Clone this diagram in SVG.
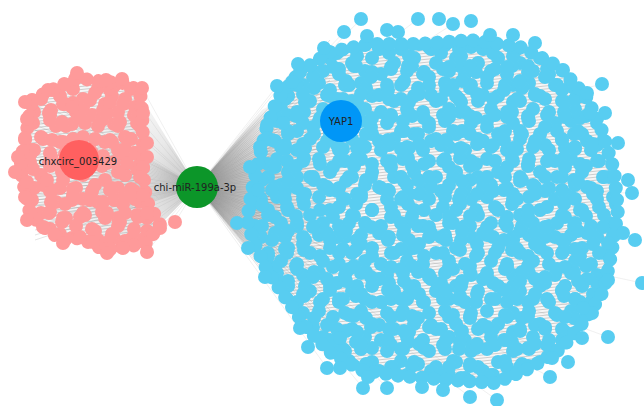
<svg xmlns="http://www.w3.org/2000/svg" width="644" height="406" viewBox="0 0 644 406">
<style>
.e{stroke:#7a7a7a;stroke-width:0.45;stroke-opacity:0.45;fill:none}
.e2{stroke:#a0a0a0;stroke-width:0.4;stroke-opacity:0.4;fill:none}
.b{fill:#58cdf1}
.p{fill:#fe9a9a}
.bo{fill:none;stroke:#58cdf1;stroke-width:14;stroke-linecap:round;stroke-linejoin:round;stroke-dasharray:0.01 12}
.po{fill:none;stroke:#fe9a9a;stroke-width:14;stroke-linecap:round;stroke-linejoin:round;stroke-dasharray:0.01 12}
.lbl{font-family:"DejaVu Sans",sans-serif;font-size:10px;fill:#222;text-anchor:middle;dominant-baseline:central}
</style>
<defs>
<pattern id="ln" width="6" height="3" patternUnits="userSpaceOnUse" patternTransform="rotate(-6)">
<rect width="6" height="3" fill="#f6f6f6"/><path d="M0,1.5H6" stroke="#bcbcbc" stroke-width="0.7"/>
</pattern>
<radialGradient id="fanR" cx="197" cy="187" r="140" gradientUnits="userSpaceOnUse">
<stop offset="0" stop-color="#6a6a6a" stop-opacity="0.75"/>
<stop offset="0.35" stop-color="#808080" stop-opacity="0.45"/>
<stop offset="0.7" stop-color="#999" stop-opacity="0.15"/>
<stop offset="1" stop-color="#aaa" stop-opacity="0"/>
</radialGradient>
<radialGradient id="fanL" cx="197" cy="187" r="140" gradientUnits="userSpaceOnUse">
<stop offset="0" stop-color="#777" stop-opacity="0.45"/>
<stop offset="0.4" stop-color="#888" stop-opacity="0.18"/>
<stop offset="1" stop-color="#aaa" stop-opacity="0"/>
</radialGradient>
<g id="cA"><circle cx="9" cy="9" r="7"/><circle cx="25" cy="7" r="7"/><circle cx="36" cy="20" r="7"/><circle cx="-6" cy="20" r="7"/><circle cx="16" cy="25" r="7"/><circle cx="29" cy="33" r="7"/><circle cx="29" cy="-5" r="7"/><circle cx="3" cy="36" r="7"/><circle cx="45" cy="36" r="7"/><circle cx="3" cy="-2" r="7"/><circle cx="45" cy="-2" r="7"/></g>
<g id="cB"><circle cx="10" cy="12" r="7"/><circle cx="27" cy="9" r="7"/><circle cx="43" cy="15" r="7"/><circle cx="20" cy="28" r="7"/><circle cx="37" cy="31" r="7"/><circle cx="50" cy="38" r="7"/><circle cx="-2" cy="38" r="7"/><circle cx="8" cy="42" r="7"/><circle cx="8" cy="-4" r="7"/><circle cx="28" cy="45" r="7"/><circle cx="28" cy="-1" r="7"/></g>
<g id="cC"><circle cx="12" cy="10" r="7"/><circle cx="33" cy="9" r="7"/><circle cx="50" cy="20" r="7"/><circle cx="25" cy="24" r="7"/><circle cx="9" cy="33" r="7"/><circle cx="40" cy="37" r="7"/><circle cx="22" cy="42" r="7"/></g>
<pattern id="bA" width="42" height="38" patternUnits="userSpaceOnUse"><use href="#cA" fill="#58cdf1"/></pattern>
<pattern id="bB" width="52" height="46" patternUnits="userSpaceOnUse" patternTransform="translate(17,11)"><use href="#cB" fill="#58cdf1"/></pattern>
<pattern id="bC" width="58" height="50" patternUnits="userSpaceOnUse" patternTransform="translate(31,7)"><use href="#cC" fill="#58cdf1"/></pattern>
<pattern id="pA" width="42" height="38" patternUnits="userSpaceOnUse" patternTransform="translate(5,3)"><use href="#cA" fill="#fe9a9a"/></pattern>
<pattern id="pB" width="52" height="46" patternUnits="userSpaceOnUse" patternTransform="translate(23,19)"><use href="#cB" fill="#fe9a9a"/></pattern>
<pattern id="pC" width="58" height="50" patternUnits="userSpaceOnUse" patternTransform="translate(40,30)"><use href="#cC" fill="#fe9a9a"/></pattern>
<path id="blueShape" d="M300,72 L330,52 L370,44 L420,44 L470,40 L520,47 L558,66 L585,95 L600,125 L614,170 L618,210 L612,250 L604,290 L585,320 L562,348 L530,368 L495,383 L450,380 L400,376 L362,370 L332,354 L308,330 L287,300 L267,270 L253,240 L247,220 L252,190 L259,160 L266,130 L277,100 Z"/>
<path id="pinkShape" d="M32,100 L52,90 L77,78 L105,82 L125,83 L140,92 L142,110 L143,140 L143,170 L146,200 L160,224 L147,243 L125,247 L105,250 L80,238 L62,240 L42,226 L30,213 L25,190 L20,170 L23,150 L27,130 Z"/>
<clipPath id="blueClip"><use href="#blueShape"/></clipPath>
<clipPath id="pinkClip"><use href="#pinkShape"/></clipPath>
</defs>
<rect width="644" height="406" fill="#fff"/>
<g id="edges">
<use href="#pinkShape" fill="url(#ln)"/>
<use href="#blueShape" fill="url(#ln)"/>
<path fill="url(#fanR)" d="M197,187 L262,110 L330,70 L330,330 L262,265 Z"/>
<path fill="url(#fanL)" d="M197,187 L140,95 L40,110 L40,235 L145,240 Z"/>
<path class="e" d="M197,187L330,40M197,187L330,45M197,187L330,50M197,187L330,55M197,187L330,60M197,187L330,65M197,187L330,70M197,187L330,75M197,187L330,80M197,187L330,85M197,187L330,90M197,187L330,95M197,187L330,100M197,187L330,105M197,187L330,110M197,187L330,115M197,187L330,120M197,187L330,125M197,187L330,130M197,187L330,135M197,187L330,140M197,187L330,145M197,187L330,150M197,187L330,155M197,187L330,160M197,187L330,165M197,187L330,170M197,187L330,175M197,187L330,180M197,187L330,185M197,187L330,190M197,187L330,195M197,187L330,200M197,187L330,205M197,187L330,210M197,187L330,215M197,187L330,220M197,187L330,225M197,187L330,230M197,187L330,235M197,187L330,240M197,187L330,245M197,187L330,250M197,187L330,255M197,187L330,260M197,187L330,265M197,187L330,270M197,187L330,275M197,187L330,280M197,187L330,285M197,187L330,290M197,187L330,295M197,187L330,300M197,187L330,305M197,187L330,310M197,187L330,315M197,187L330,320M197,187L330,325M197,187L330,330M197,187L330,335M197,187L330,340M197,187L330,345M197,187L330,350M197,187L330,355M197,187L330,360"/>
<path class="e2" d="M197,187L344,32M197,187L361,19M197,187L418,19M197,187L453,24M197,187L490,35M197,187L535,43M197,187L563,70M197,187L602,84M197,187L618,143M197,187L632,193M197,187L635,240M197,187L642,283M197,187L608,280M197,187L608,337M197,187L582,338M197,187L550,377M197,187L497,400M197,187L470,397M197,187L443,390M197,187L387,388M197,187L363,388M197,187L327,368M197,187L592,313M197,187L568,362M197,187L298,64M197,187L277,86"/>
<path class="e" d="M197,187L35,95M197,187L35,100M197,187L35,105M197,187L35,110M197,187L35,115M197,187L35,120M197,187L35,125M197,187L35,130M197,187L35,135M197,187L35,140M197,187L35,145M197,187L35,150M197,187L35,155M197,187L35,160M197,187L35,165M197,187L35,170M197,187L35,175M197,187L35,180M197,187L35,185M197,187L35,190M197,187L35,195M197,187L35,200M197,187L35,205M197,187L35,210M197,187L35,215M197,187L35,220M197,187L35,225M197,187L35,230M197,187L35,235M197,187L35,240"/>
<path class="e2" d="M197,187L77,73M197,187L106,80M197,187L122,79M197,187L142,88M197,187L48,90M197,187L25,102M197,187L18,157M197,187L15,172M197,187L27,220M197,187L63,243M197,187L147,143M197,187L147,157M197,187L143,195M197,187L147,213M197,187L160,228M197,187L175,222M197,187L147,252M197,187L123,248M197,187L107,253"/>
</g>
<g id="circRNA-nodes">
<g clip-path="url(#pinkClip)">
<rect x="0" y="60" width="180" height="210" fill="url(#pA)"/>
<rect x="0" y="60" width="180" height="210" fill="url(#pB)"/>
<rect x="0" y="60" width="180" height="210" fill="url(#pC)"/>
</g>
<use href="#pinkShape" class="po"/>
<circle class="p" cx="77" cy="73" r="7"/><circle class="p" cx="106" cy="80" r="7"/><circle class="p" cx="122" cy="79" r="7"/>
<circle class="p" cx="142" cy="88" r="7"/><circle class="p" cx="48" cy="90" r="7"/><circle class="p" cx="25" cy="102" r="7"/>
<circle class="p" cx="27" cy="119" r="7"/><circle class="p" cx="25" cy="138" r="7"/><circle class="p" cx="18" cy="157" r="7"/>
<circle class="p" cx="15" cy="172" r="7"/><circle class="p" cx="27" cy="182" r="7"/><circle class="p" cx="25" cy="197" r="7"/>
<circle class="p" cx="27" cy="220" r="7"/><circle class="p" cx="43" cy="227" r="7"/><circle class="p" cx="63" cy="243" r="7"/>
<circle class="p" cx="107" cy="253" r="7"/><circle class="p" cx="123" cy="248" r="7"/><circle class="p" cx="147" cy="252" r="7"/>
<circle class="p" cx="160" cy="228" r="7"/><circle class="p" cx="175" cy="222" r="7"/><circle class="p" cx="147" cy="143" r="7"/>
<circle class="p" cx="147" cy="157" r="7"/><circle class="p" cx="143" cy="113" r="7"/><circle class="p" cx="143" cy="167" r="7"/>
<circle class="p" cx="140" cy="177" r="7"/><circle class="p" cx="143" cy="195" r="7"/><circle class="p" cx="147" cy="213" r="7"/>
<circle class="p" cx="80" cy="237" r="7"/><circle class="p" cx="93" cy="242" r="7"/><circle class="p" cx="110" cy="102" r="7"/>
<circle class="p" cx="72" cy="107" r="7"/><circle class="p" cx="127" cy="163" r="7"/><circle class="p" cx="47" cy="180" r="7"/>
</g>
<g id="mRNA-nodes">
<g clip-path="url(#blueClip)">
<rect x="240" y="30" width="390" height="360" fill="url(#bA)"/>
<rect x="240" y="30" width="390" height="360" fill="url(#bB)"/>
<rect x="240" y="30" width="390" height="360" fill="url(#bC)"/>
</g>
<use href="#blueShape" class="bo"/>
<circle class="b" cx="361" cy="19" r="7"/><circle class="b" cx="418" cy="19" r="7"/><circle class="b" cx="439" cy="19" r="7"/>
<circle class="b" cx="453" cy="24" r="7"/><circle class="b" cx="471" cy="21" r="7"/><circle class="b" cx="344" cy="32" r="7"/>
<circle class="b" cx="367" cy="36" r="7"/><circle class="b" cx="387" cy="30" r="7"/><circle class="b" cx="398" cy="32" r="7"/>
<circle class="b" cx="490" cy="35" r="7"/><circle class="b" cx="513" cy="35" r="7"/><circle class="b" cx="535" cy="43" r="7"/>
<circle class="b" cx="298" cy="64" r="7"/><circle class="b" cx="324" cy="48" r="7"/><circle class="b" cx="277" cy="86" r="7"/>
<circle class="b" cx="292" cy="82" r="7"/><circle class="b" cx="563" cy="70" r="7"/><circle class="b" cx="602" cy="84" r="7"/>
<circle class="b" cx="587" cy="93" r="7"/><circle class="b" cx="605" cy="113" r="7"/><circle class="b" cx="590" cy="113" r="7"/>
<circle class="b" cx="618" cy="143" r="7"/><circle class="b" cx="628" cy="180" r="7"/><circle class="b" cx="632" cy="193" r="7"/>
<circle class="b" cx="635" cy="240" r="7"/><circle class="b" cx="642" cy="283" r="7"/><circle class="b" cx="623" cy="233" r="7"/>
<circle class="b" cx="608" cy="243" r="7"/><circle class="b" cx="608" cy="280" r="7"/><circle class="b" cx="608" cy="337" r="7"/>
<circle class="b" cx="582" cy="338" r="7"/><circle class="b" cx="568" cy="362" r="7"/><circle class="b" cx="550" cy="377" r="7"/>
<circle class="b" cx="552" cy="358" r="7"/><circle class="b" cx="592" cy="313" r="7"/><circle class="b" cx="583" cy="308" r="7"/>
<circle class="b" cx="497" cy="400" r="7"/><circle class="b" cx="470" cy="397" r="7"/><circle class="b" cx="443" cy="390" r="7"/>
<circle class="b" cx="422" cy="387" r="7"/><circle class="b" cx="387" cy="388" r="7"/><circle class="b" cx="363" cy="388" r="7"/>
<circle class="b" cx="368" cy="377" r="7"/><circle class="b" cx="327" cy="368" r="7"/><circle class="b" cx="340" cy="368" r="7"/>
<circle class="b" cx="308" cy="347" r="7"/><circle class="b" cx="300" cy="328" r="7"/><circle class="b" cx="340" cy="338" r="7"/>
<circle class="b" cx="265" cy="277" r="7"/><circle class="b" cx="248" cy="248" r="7"/><circle class="b" cx="237" cy="223" r="7"/>
<circle class="b" cx="260" cy="147" r="7"/><circle class="b" cx="267" cy="125" r="7"/><circle class="b" cx="283" cy="123" r="7"/>
<circle class="b" cx="250" cy="167" r="7"/><circle class="b" cx="262" cy="205" r="7"/><circle class="b" cx="258" cy="190" r="7"/>
</g>
<g id="chxcirc_003429">
<circle cx="79" cy="160" r="20" fill="#ff6060"/>
<text class="lbl" x="78" y="161">chxcirc_003429</text>
</g>
<g id="chi-miR-199a-3p">
<circle cx="197" cy="187" r="21" fill="#0c9629"/>
<text class="lbl" x="195" y="187">chi-miR-199a-3p</text>
</g>
<g id="YAP1">
<circle cx="341" cy="121" r="21" fill="#0096f7"/>
<text class="lbl" x="341" y="121">YAP1</text>
</g>
</svg>
